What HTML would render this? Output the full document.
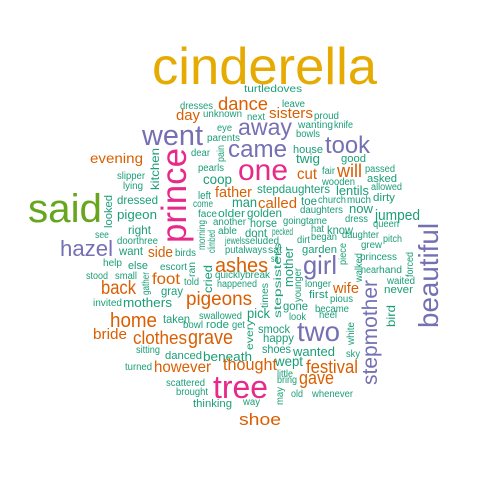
<!DOCTYPE html>
<html><head><meta charset="utf-8"><style>
html,body{margin:0;padding:0;background:#fff;width:504px;height:504px;overflow:hidden}
svg text{font-family:"Liberation Sans",Arial,sans-serif}
</style></head><body>
<svg id="cloud" width="504" height="504" viewBox="0 0 504 504" xmlns="http://www.w3.org/2000/svg"></svg>
<script>
const palette = {G:'#1B9E77',O:'#D95F02',P:'#7570B3',M:'#E7298A',L:'#66A61E',Y:'#E6AB02'};
// horizontal words: [word, x1, x2, baseline, size, color]
const words = [
['cinderella',152,377,84,52,'Y'],['said',28,102,222,40,'L'],['went',142,203,145,29,'P'],
['came',228,287,157,24,'P'],['away',238,292,135,23,'P'],['took',325,370,153,24,'P'],
['one',238,288,180,30,'M'],['tree',213,268,398,32,'M'],['two',297,340,341,28,'P'],
['hazel',60,113,256,22,'P'],['girl',303,337,274,26,'P'],
['turtledoves',244,302,92,10,'G'],['dresses',180,213,109,10,'G'],['dance',218,268,110,18,'O'],
['unknown',203,242,117,10,'G'],['day',176,200,120,15,'O'],['next',247,265,120,10,'G'],
['sisters',269,313,118,15,'O'],['leave',282,305,107,10,'G'],['proud',314,339,119,10,'G'],
['wanting',298,333,128,10,'G'],['knife',334,353,128,10,'G'],['bowls',296,320,137,10,'G'],
['eye',217,232,131,10,'G'],['parents',207,240,141,10,'G'],['house',293,323,153,11,'G'],
['twig',296,320,163,13,'G'],['good',341,366,162,11,'G'],['evening',90,143,163,14,'O'],
['dear',191,210,156,10,'G'],['pearls',198,224,171,10,'G'],['slipper',117,145,179,10,'G'],
['lying',123,143,189,10,'G'],['coop',203,232,184,14,'G'],['cut',297,317,179,16,'O'],
['will',337,362,177,18,'O'],['fair',322,335,174,10,'G'],['passed',365,395,172,10,'G'],
['asked',367,397,182,11,'G'],['wooden',322,355,185,10,'G'],['allowed',371,402,190,10,'G'],
['stepdaughters',257,330,193,12,'G'],['lentils',336,369,195,13,'G'],['dirty',373,395,201,11,'G'],
['church',318,346,203,10,'G'],['much',347,371,203,10,'G'],['toe',301,317,205,12,'G'],
['left',198,211,199,11,'G'],['father',215,252,197,15,'O'],['come',193,213,207,10,'G'],
['man',232,257,207,14,'G'],['called',258,297,208,15,'O'],['daughters',300,343,213,10,'G'],
['now',349,373,213,13,'G'],['face',198,217,217,10,'G'],['older',218,245,217,11,'G'],
['golden',247,282,217,12,'G'],['jumped',375,420,220,15,'G'],['dressed',117,158,204,12,'G'],
['pigeon',117,157,219,13,'G'],['another',213,246,225,10,'G'],['horse',250,277,227,12,'G'],
['goingtame',283,327,224,10,'G'],['dress',345,368,222,10,'G'],['queen',373,399,227,10,'G'],
['hat',311,324,232,10,'G'],['know',327,353,234,12,'G'],['able',218,237,234,10,'G'],
['dont',245,267,237,12,'G'],['pecked',272,293,235,10,'G'],['right',128,151,234,12,'G'],
['see',95,109,238,10,'G'],['doorthree',117,158,244,10,'G'],['jewels',225,245,244,10,'G'],
['seluded',245,279,244,10,'G'],['began',311,337,240,10,'G'],['daughter',342,379,238,10,'G'],
['dirt',297,310,243,10,'G'],['pitch',383,402,242,10,'G'],['grew',361,382,248,10,'G'],
['garden',302,337,253,11,'G'],['want',119,143,255,12,'G'],['side',148,173,257,15,'O'],
['birds',175,196,256,10,'G'],['putalways',225,267,253,10,'G'],['sat',268,282,253,10,'G'],
['sit',271,278,262,10,'G'],['ashes',215,268,272,20,'O'],['escort',160,187,270,10,'G'],
['told',184,199,285,10,'G'],['help',103,122,266,10,'G'],['else',128,148,269,11,'G'],
['stood',86,108,279,10,'G'],['small',115,137,279,10,'G'],['foot',152,180,284,16,'O'],
['quickly',215,245,278,10,'G'],['break',245,270,278,10,'G'],['happened',217,257,287,10,'G'],
['princess',360,397,260,10,'G'],['near',361,379,273,10,'G'],['hand',379,402,273,10,'G'],
['waited',387,415,284,10,'G'],['wife',333,359,293,15,'O'],['longer',305,331,287,10,'G'],
['first',309,328,298,11,'G'],['pious',330,353,302,10,'G'],['never',384,413,293,11,'G'],
['pigeons',186,252,305,19,'O'],['back',101,136,294,19,'O'],['gray',161,183,295,12,'G'],
['invited',93,122,306,10,'G'],['mothers',123,172,307,13,'G'],['gone',283,308,310,12,'G'],
['became',315,349,312,10,'G'],['heel',319,337,318,10,'G'],['look',289,306,320,10,'G'],
['home',110,157,327,20,'O'],['taken',163,190,323,12,'G'],['swallowed',199,242,319,10,'G'],
['pick',247,270,318,14,'G'],['bowl',183,203,328,10,'G'],['rode',206,229,328,11,'G'],
['get',232,245,328,10,'G'],['smock',258,290,333,12,'G'],['happy',263,294,342,12,'G'],
['bride',93,127,339,15,'O'],['clothes',133,187,344,18,'O'],['grave',188,233,344,20,'O'],
['shoes',262,291,353,12,'G'],['wanted',293,335,356,13,'G'],['sky',346,360,357,10,'G'],
['sitting',136,160,353,10,'G'],['danced',165,202,359,11,'G'],['beneath',203,252,361,13,'G'],
['thought',223,277,370,17,'O'],['wept',275,303,366,14,'G'],['festival',306,358,373,18,'O'],
['turned',125,152,370,10,'G'],['however',154,211,372,16,'O'],['little',277,293,377,10,'G'],
['bring',277,297,383,10,'G'],['gave',299,334,384,18,'O'],['scattered',166,205,386,10,'G'],
['brought',176,208,395,10,'G'],['old',291,303,397,10,'G'],['whenever',312,353,397,10,'G'],
['thinking',193,232,407,11,'G'],['way',243,260,405,10,'G'],['shoe',239,281,425,17,'O']
];
// rotated words (reading upward): [word, baselineX, y1, y2, size, color]
const rotWords = [
['prince',186,148,243,35,'M'],['beautiful',438,223,328,28,'P'],['stepmother',377,280,385,21,'P'],
['kitchen',159,148,190,12,'G'],['pain',224,145,162,10,'G'],['looked',112,195,228,11,'G'],
['morning',205,220,250,10,'G'],['climbed',215,230,253,10,'G'],['piece',346,243,265,10,'G'],
['ran',195,262,277,10,'G'],['cried',212,265,293,12,'G'],['mother',293,247,287,13,'G'],
['gather',149,272,295,10,'G'],['stepsisters',281,243,318,10,'G'],['times',268,283,308,10,'G'],
['younger',301,268,302,10,'G'],['walked',362,253,282,10,'G'],['forced',413,252,277,10,'G'],
['bird',395,305,327,12,'G'],['every',253,320,350,10,'G'],['white',354,322,345,10,'G'],
['may',283,387,405,10,'G']
];
const svg = document.getElementById('cloud');
const NS = 'http://www.w3.org/2000/svg';
words.forEach(w => {
  const t = document.createElementNS(NS,'text');
  t.setAttribute('x', w[1]); t.setAttribute('y', w[3]);
  t.setAttribute('font-size', w[4]); t.setAttribute('fill', palette[w[5]]);
  t.setAttribute('textLength', w[2]-w[1]); t.setAttribute('lengthAdjust','spacingAndGlyphs');
  t.textContent = w[0];
  
  
  svg.appendChild(t);
});
rotWords.forEach(w => {
  const t = document.createElementNS(NS,'text');
  t.setAttribute('x', 0); t.setAttribute('y', 0);
  t.setAttribute('transform', 'translate(' + w[1] + ',' + w[3] + ') rotate(-90)');
  t.setAttribute('font-size', w[4]); t.setAttribute('fill', palette[w[5]]);
  t.setAttribute('textLength', w[3]-w[2]); t.setAttribute('lengthAdjust','spacingAndGlyphs');
  t.textContent = w[0];
  
  
  svg.appendChild(t);
});
</script>
</body></html>
